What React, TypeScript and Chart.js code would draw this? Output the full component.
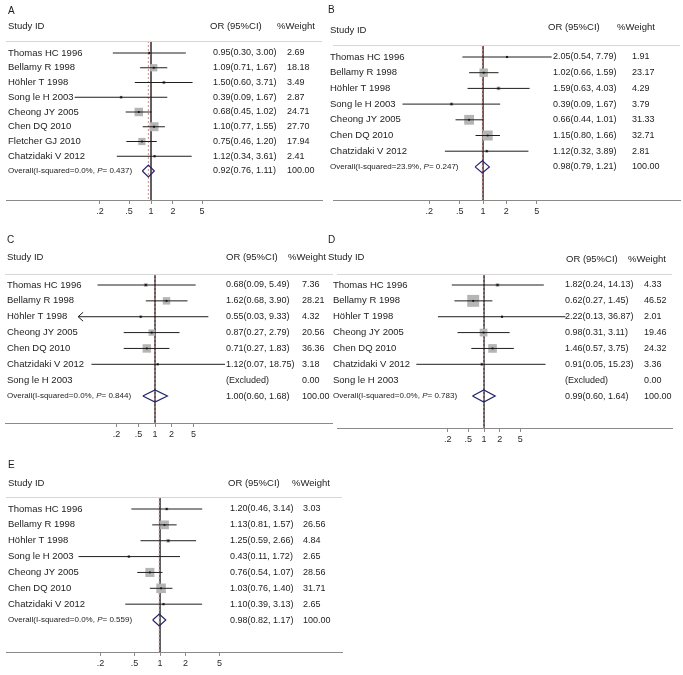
import React, { useEffect, useRef } from "react";
import { Chart, registerables } from "chart.js";

Chart.register(...registerables);

const FONT = '"Liberation Sans", Arial, sans-serif';

// ---------- data ----------
const TICKS = [0.2, 0.5, 1, 2, 5];
const TICK_LABELS = [".2", ".5", "1", "2", "5"];

// Panel A
const namesA = ["Thomas HC 1996", "Bellamy R 1998", "Höhler T 1998", "Song le H 2003", "Cheong JY 2005", "Chen DQ 2010", "Fletcher GJ 2010", "Chatzidaki V 2012"];
const orA = [0.95, 1.09, 1.5, 0.39, 0.68, 1.1, 0.75, 1.12];
const loA = [0.3, 0.71, 0.6, 0.09, 0.45, 0.77, 0.46, 0.34];
const hiA = [3.0, 1.67, 3.71, 1.67, 1.02, 1.55, 1.2, 3.61];
const wA = [2.69, 18.18, 3.49, 2.87, 24.71, 27.7, 17.94, 2.41];
const overallA = [0.92, 0.76, 1.11];
const hetA = ["0.0%", "0.437"];

// Panel B
const namesB = ["Thomas HC 1996", "Bellamy R 1998", "Höhler T 1998", "Song le H 2003", "Cheong JY 2005", "Chen DQ 2010", "Chatzidaki V 2012"];
const orB = [2.05, 1.02, 1.59, 0.39, 0.66, 1.15, 1.12];
const loB = [0.54, 0.66, 0.63, 0.09, 0.44, 0.8, 0.32];
const hiB = [7.79, 1.59, 4.03, 1.67, 1.01, 1.66, 3.89];
const wB = [1.91, 23.17, 4.29, 3.79, 31.33, 32.71, 2.81];
const overallB = [0.98, 0.79, 1.21];
const hetB = ["23.9%", "0.247"];

// Panel C
const namesC = ["Thomas HC 1996", "Bellamy R 1998", "Höhler T 1998", "Cheong JY 2005", "Chen DQ 2010", "Chatzidaki V 2012", "Song le H 2003"];
const orC = [0.68, 1.62, 0.55, 0.87, 0.71, 1.12, null];
const loC = [0.09, 0.68, 0.03, 0.27, 0.27, 0.07, null];
const hiC = [5.49, 3.9, 9.33, 2.79, 1.83, 18.75, null];
const wC = [7.36, 28.21, 4.32, 20.56, 36.36, 3.18, 0.0];
const overallC = [1.0, 0.6, 1.68];
const hetC = ["0.0%", "0.844"];

// Panel D
const namesD = ["Thomas HC 1996", "Bellamy R 1998", "Höhler T 1998", "Cheong JY 2005", "Chen DQ 2010", "Chatzidaki V 2012", "Song le H 2003"];
const orD = [1.82, 0.62, 2.22, 0.98, 1.46, 0.91, null];
const loD = [0.24, 0.27, 0.13, 0.31, 0.57, 0.05, null];
const hiD = [14.13, 1.45, 36.87, 3.11, 3.75, 15.23, null];
const wD = [4.33, 46.52, 2.01, 19.46, 24.32, 3.36, 0.0];
const overallD = [0.99, 0.6, 1.64];
const hetD = ["0.0%", "0.783"];

// Panel E
const namesE = ["Thomas HC 1996", "Bellamy R 1998", "Höhler T 1998", "Song le H 2003", "Cheong JY 2005", "Chen DQ 2010", "Chatzidaki V 2012"];
const orE = [1.2, 1.13, 1.25, 0.43, 0.76, 1.03, 1.1];
const loE = [0.46, 0.81, 0.59, 0.11, 0.54, 0.76, 0.39];
const hiE = [3.14, 1.57, 2.66, 1.72, 1.07, 1.4, 3.13];
const wE = [3.03, 26.56, 4.84, 2.65, 28.56, 31.71, 2.65];
const overallE = [0.98, 0.82, 1.17];
const hetE = ["0.0%", "0.559"];

// ---------- layout (positions / sizes only) ----------
type Layout = {
  x: number; y: number; w: number; h: number;
  axL: number; axR: number; nullX: number; ppd: number;
  y0: number; step: number; axisY: number;
  letterX: number; letterY: number; hdrNameX: number; nameX: number; hdrY: number; orHdrY: number;
  hdrLineY: number; orX: number; wX: number; orHdrX: number; wHdrX: number;
  k: number; clipLo?: number;
};

const layA: Layout = { x: 0, y: 0, w: 330, h: 225, axL: 6, axR: 322, nullX: 151, ppd: 73, y0: 53, step: 14.75, axisY: 200, letterX: 8, letterY: 11, hdrNameX: 8, nameX: 8, hdrY: 26, orHdrY: 26, hdrLineY: 41, orX: 213, wX: 287, orHdrX: 210, wHdrX: 277, k: 1.7 };
const layB: Layout = { x: 325, y: 0, w: 358, h: 225, axL: 8, axR: 355, nullX: 158, ppd: 77, y0: 57, step: 15.7, axisY: 200, letterX: 3, letterY: 10, hdrNameX: 5, nameX: 5, hdrY: 30, orHdrY: 27, hdrLineY: 45, orX: 228, wX: 307, orHdrX: 223, wHdrX: 292, k: 1.75 };
const layC: Layout = { x: 0, y: 225, w: 333, h: 225, axL: 5, axR: 333, nullX: 155, ppd: 55, y0: 60, step: 15.86, axisY: 198, letterX: 7, letterY: 15, hdrNameX: 7, nameX: 7, hdrY: 32, orHdrY: 32, hdrLineY: 49, orX: 226, wX: 302, orHdrX: 226, wHdrX: 288, k: 1.4, clipLo: 0.04 };
const layD: Layout = { x: 325, y: 225, w: 358, h: 225, axL: 12, axR: 347, nullX: 159, ppd: 52, y0: 60, step: 15.86, axisY: 203, letterX: 3, letterY: 15, hdrNameX: 3, nameX: 8, hdrY: 32, orHdrY: 34, hdrLineY: 49, orX: 240, wX: 319, orHdrX: 241, wHdrX: 303, k: 1.75 };
const layE: Layout = { x: 0, y: 450, w: 345, h: 225, axL: 6, axR: 342, nullX: 160, ppd: 85, y0: 59, step: 15.86, axisY: 202, letterX: 8, letterY: 15, hdrNameX: 8, nameX: 8, hdrY: 33, orHdrY: 33, hdrLineY: 47, orX: 230, wX: 303, orHdrX: 228, wHdrX: 292, k: 1.7 };

type PanelData = {
  letter: string; names: string[]; or: (number | null)[]; lo: (number | null)[];
  hi: (number | null)[]; w: number[]; overall: number[]; het: string[];
};

const panels: { d: PanelData; L: Layout }[] = [
  { d: { letter: "A", names: namesA, or: orA, lo: loA, hi: hiA, w: wA, overall: overallA, het: hetA }, L: layA },
  { d: { letter: "B", names: namesB, or: orB, lo: loB, hi: hiB, w: wB, overall: overallB, het: hetB }, L: layB },
  { d: { letter: "C", names: namesC, or: orC, lo: loC, hi: hiC, w: wC, overall: overallC, het: hetC }, L: layC },
  { d: { letter: "D", names: namesD, or: orD, lo: loD, hi: hiD, w: wD, overall: overallD, het: hetD }, L: layD },
  { d: { letter: "E", names: namesE, or: orE, lo: loE, hi: hiE, w: wE, overall: overallE, het: hetE }, L: layE },
];

const X_AXIS_H = 20;

function buildConfig(d: PanelData, L: Layout): any {
  const n = d.names.length;
  const yMin = -L.y0 / L.step;
  const yMax = yMin + L.axisY / L.step;
  const hdrV = yMin + L.hdrLineY / L.step;
  const xMin = Math.pow(10, -(L.nullX - L.axL) / L.ppd);
  const xMax = Math.pow(10, (L.axR - L.nullX) / L.ppd);
  const dh = 6 / L.step;

  const datasets: any[] = [];
  // CI lines
  d.or.forEach((v, i) => {
    if (v == null) return;
    let lo = d.lo[i] as number;
    const hi = d.hi[i] as number;
    let clipped = false;
    if (L.clipLo && lo < L.clipLo) { lo = L.clipLo; clipped = true; }
    datasets.push({
      type: "line", data: [{ x: lo, y: i }, { x: hi, y: i }],
      borderColor: "#1e1e1e", borderWidth: 1, pointRadius: 0, order: 2,
    });
    if (clipped) {
      const f = Math.pow(10, 5 / L.ppd);
      datasets.push({
        type: "line", data: [{ x: lo * f, y: i - 0.28 }, { x: lo, y: i }, { x: lo * f, y: i + 0.28 }],
        borderColor: "#1e1e1e", borderWidth: 1, pointRadius: 0, order: 2,
      });
    }
  });
  const pts = d.or
    .map((v, i) => (v == null || d.w[i] <= 0 ? null : { x: v, y: i, w: d.w[i] }))
    .filter((p) => p !== null);
  // weight boxes
  datasets.push({
    type: "scatter", data: pts, pointStyle: "rect",
    pointRadius: (c: any) => (L.k * Math.sqrt(c.raw ? c.raw.w : 0)) / Math.SQRT2,
    backgroundColor: "#b5b5b5", borderWidth: 0, order: 3,
  });
  // centre dots
  datasets.push({
    type: "scatter", data: pts, pointStyle: "rect", pointRadius: 1.3,
    backgroundColor: "#111", borderWidth: 0, order: 1,
  });
  // null line
  datasets.push({
    type: "line", data: [{ x: 1, y: hdrV }, { x: 1, y: yMax }],
    borderColor: "#4a4a4a", borderWidth: 1, pointRadius: 0, order: 5,
  });
  // overall dashed line
  const [oe, ol, oh] = d.overall;
  datasets.push({
    type: "line", data: [{ x: oe, y: hdrV }, { x: oe, y: yMax }],
    borderColor: "#d08c8c", borderWidth: 1, borderDash: [2, 2], pointRadius: 0, order: 4,
  });
  // diamond
  datasets.push({
    type: "line",
    data: [{ x: ol, y: n }, { x: oe, y: n - dh }, { x: oh, y: n }, { x: oe, y: n + dh }, { x: ol, y: n }],
    borderColor: "#24246e", borderWidth: 1.2, pointRadius: 0, order: 0, tension: 0,
  });

  const textPlugin = {
    id: "forestText",
    afterDatasetsDraw(chart: any) {
      const ctx = chart.ctx;
      const ys = chart.scales.y;
      ctx.save();
      // header line
      ctx.strokeStyle = "#d6d6d6";
      ctx.lineWidth = 1;
      ctx.beginPath();
      ctx.moveTo(L.axL, L.hdrLineY + 0.5);
      ctx.lineTo(L.axR, L.hdrLineY + 0.5);
      ctx.stroke();

      ctx.fillStyle = "#1c1c1c";
      ctx.textBaseline = "middle";
      ctx.textAlign = "left";
      ctx.font = `10px ${FONT}`;
      ctx.fillText(d.letter, L.letterX, L.letterY);
      ctx.font = `9.5px ${FONT}`;
      ctx.fillText("Study ID", L.hdrNameX, L.hdrY);
      ctx.fillText("OR (95%CI)", L.orHdrX, L.orHdrY);
      ctx.fillText("%Weight", L.wHdrX, L.orHdrY);

      d.names.forEach((nm, i) => {
        const y = ys.getPixelForValue(i);
        ctx.font = `9.5px ${FONT}`;
        ctx.fillText(nm, L.nameX, y);
        ctx.font = `9px ${FONT}`;
        const v = d.or[i];
        const txt = v == null ? "(Excluded)" : `${v.toFixed(2)}(${(d.lo[i] as number).toFixed(2)}, ${(d.hi[i] as number).toFixed(2)})`;
        ctx.fillText(txt, L.orX, y);
        ctx.fillText(d.w[i].toFixed(2), L.wX, y);
      });
      // overall row
      const yo = ys.getPixelForValue(n);
      ctx.font = `8px ${FONT}`;
      const p1 = `Overall(I-squared=${d.het[0]}, `;
      ctx.fillText(p1, L.nameX, yo);
      let xx = L.nameX + ctx.measureText(p1).width;
      ctx.font = `italic 8px ${FONT}`;
      ctx.fillText("P", xx, yo);
      xx += ctx.measureText("P").width;
      ctx.font = `8px ${FONT}`;
      ctx.fillText(`= ${d.het[1]})`, xx, yo);
      ctx.font = `9px ${FONT}`;
      ctx.fillText(`${oe.toFixed(2)}(${ol.toFixed(2)}, ${oh.toFixed(2)})`, L.orX, yo);
      ctx.fillText("100.00", L.wX, yo);
      ctx.restore();
    },
  };

  return {
    type: "scatter",
    data: { datasets },
    plugins: [textPlugin],
    options: {
      animation: false,
      responsive: false,
      maintainAspectRatio: false,
      layout: { autoPadding: false, padding: { left: L.axL, right: L.w - L.axR, top: 0, bottom: L.h - L.axisY - X_AXIS_H } },
      plugins: { legend: { display: false }, tooltip: { enabled: false } },
      scales: {
        x: {
          type: "logarithmic",
          min: xMin,
          max: xMax,
          afterBuildTicks: (s: any) => { s.ticks = TICKS.map((v) => ({ value: v, major: false })); },
          afterFit: (s: any) => { s.height = X_AXIS_H; },
          border: { display: true, color: "#8a8a8a", width: 1 },
          grid: { display: true, drawOnChartArea: false, drawTicks: true, tickLength: 4, color: "#8a8a8a" },
          ticks: {
            autoSkip: false, maxRotation: 0, padding: 2, color: "#2a2a2a",
            font: { family: FONT, size: 9 },
            callback: (v: any) => { const k = TICKS.indexOf(Number(v)); return k >= 0 ? TICK_LABELS[k] : ""; },
          },
        },
        y: { type: "linear", display: false, reverse: true, min: yMin, max: yMax },
      },
    },
  };
}

function Panel({ d, L }: { d: PanelData; L: Layout }) {
  const ref = useRef<HTMLCanvasElement>(null);
  useEffect(() => {
    if (!ref.current) return;
    const chart = new Chart(ref.current, buildConfig(d, L));
    return () => chart.destroy();
  }, []);
  return (
    <canvas
      ref={ref}
      width={L.w}
      height={L.h}
      style={{ position: "absolute", left: L.x, top: L.y, width: L.w, height: L.h }}
    />
  );
}

export default function App() {
  return (
    <div style={{ position: "absolute", left: 0, top: 0, width: 683, height: 675, background: "#fff", overflow: "hidden" }}>
      {panels.map((p, i) => (
        <Panel key={i} d={p.d} L={p.L} />
      ))}
    </div>
  );
}
